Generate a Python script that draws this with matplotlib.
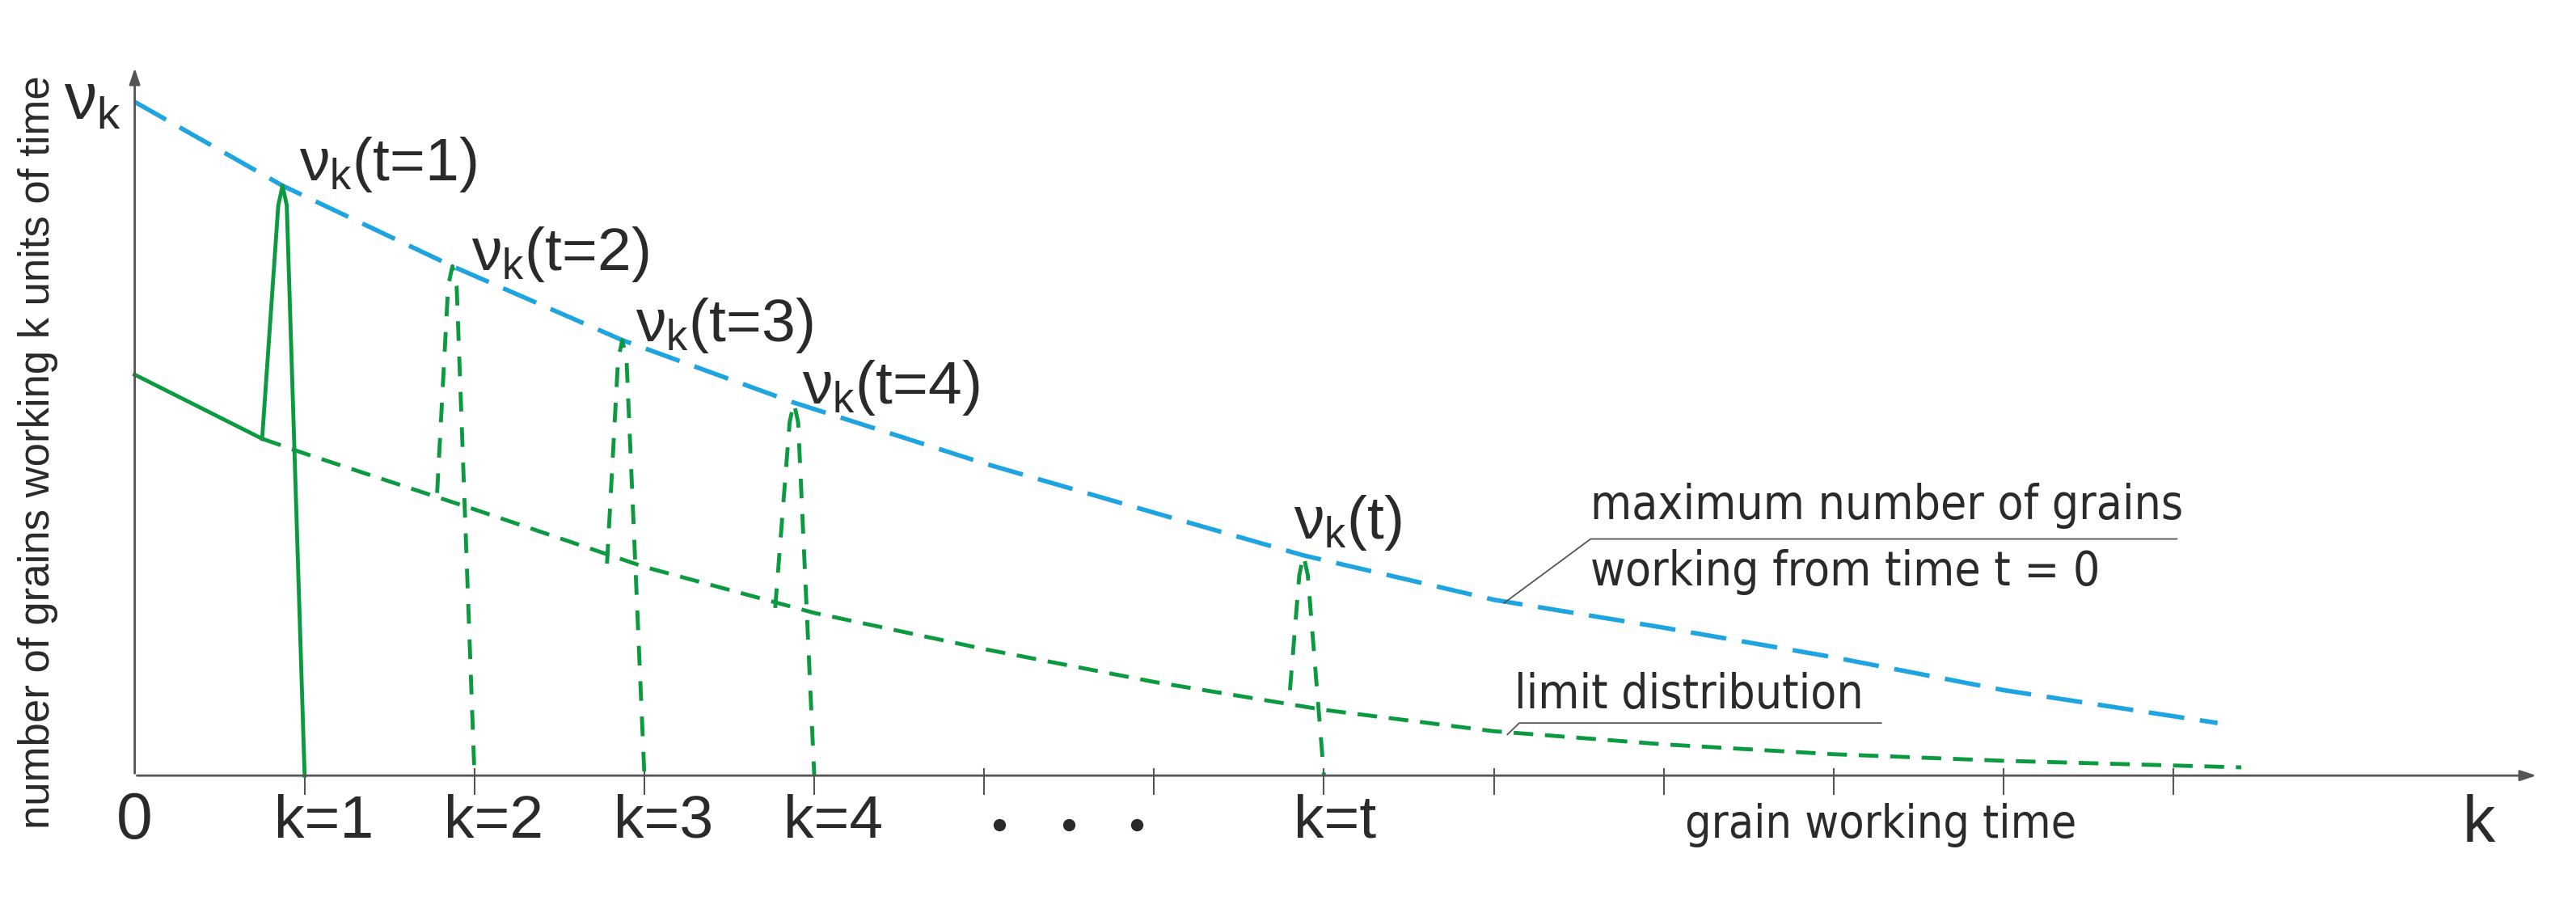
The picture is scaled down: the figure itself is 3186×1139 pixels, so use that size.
import matplotlib
matplotlib.use("Agg")
import matplotlib.pyplot as plt

plt.rcParams['font.family'] = ['Liberation Sans', 'DejaVu Sans']
plt.rcParams['mathtext.fontset'] = 'custom'
plt.rcParams['mathtext.rm'] = 'Liberation Sans'
plt.rcParams['mathtext.it'] = 'Liberation Sans'

BLUE = '#1ea4e0'
GREEN = '#0c9a40'
AX = '#555555'
TXT = '#2a2a2a'

# maximum number of grains working from time t=0
max_k = [0.0, 0.87, 1.87, 2.87, 3.88, 5.0, 6.0, 6.88, 8.0, 9.0, 10.0, 11.0, 12.26]
max_v = [410, 359, 310, 265, 227, 190, 160, 134, 107, 90, 72, 52, 32]
# limit distribution
lim_k = [0.0, 0.75, 1.0, 2.0, 3.0, 4.0, 5.0, 6.0, 7.0, 8.0, 9.0, 10.0, 11.0, 12.4]
lim_v = [244, 205, 196, 162, 127, 99, 77, 57, 40, 27, 19, 13, 9, 5]
# transient distributions nu_k(t)
t_labels = ['t=1', 't=2', 't=3', 't=4', 't']
rise_k = [0.75, 1.78, 2.78, 3.77, 6.80]
rise_v = [205, 172, 129, 102, 52]
peak_k = [0.87, 1.87, 2.87, 3.88, 6.88]
peak_v = [359, 310, 265, 227, 134]
zero_k = [1.0, 2.0, 3.0, 4.0, 7.0]
label_k = [0.97, 1.98, 2.95, 3.93, 6.82]
label_v = [372, 317, 274, 236, 154]
tick_k = list(range(1, 13))
tick_labels = ['k=1', 'k=2', 'k=3', 'k=4', 'k=t']
tick_label_k = [1, 2, 3, 4, 7]

fig = plt.figure(figsize=(31.86, 11.39), dpi=100)
ax = fig.add_axes([0, 0, 1, 1])
ax.set_xlim(-0.793, 14.37)
ax.set_ylim(-88.5, 472)
ax.axis('off')

# axes
ax.annotate('', xy=(14.15, 0), xytext=(0, 0),
            arrowprops=dict(arrowstyle='-|>,head_length=1.2,head_width=0.4', color=AX, lw=2))
ax.annotate('', xy=(0, 432), xytext=(0, 0),
            arrowprops=dict(arrowstyle='-|>,head_length=1.2,head_width=0.4', color=AX, lw=2))
for k in tick_k:
    ax.plot([k, k], [4, -11], color=AX, lw=1.5)

# curves
ax.plot(max_k, max_v, color=BLUE, lw=4, dashes=(8, 3.5))
ax.plot(lim_k[:2], lim_v[:2], color=GREEN, lw=3.5)
ax.plot(lim_k[1:], lim_v[1:], color=GREEN, lw=3.5, dashes=(5, 3))

for i in range(len(peak_k)):
    ks = [rise_k[i], peak_k[i] - 0.025, peak_k[i], peak_k[i] + 0.025, zero_k[i]]
    vs = [rise_v[i], peak_v[i] - 12, peak_v[i], peak_v[i] - 12, 0]
    if i == 0:
        ax.plot(ks, vs, color=GREEN, lw=3.5)
    else:
        ax.plot(ks, vs, color=GREEN, lw=3.5, dashes=(5, 4))
    ax.text(label_k[i], label_v[i], r'$\nu_{\mathrm{k}}$(' + t_labels[i] + ')',
            fontsize=54, color=TXT, ha='left', va='center')

# tick labels
ax.text(0, -28, '0', fontsize=58, color=TXT, ha='center', va='center')
for k, lab in zip(tick_label_k, tick_labels):
    ax.text(k - 0.18, -28, lab, fontsize=54, color=TXT, ha='left', va='center')
for k in [5.09, 5.5, 5.9]:
    ax.plot(k, -30, 'o', color=TXT, ms=10)
ax.text(10.28, -30, 'grain working time', fontsize=41, color=TXT, ha='center', va='center',
        fontstretch='condensed', family='DejaVu Sans')
ax.text(13.8, -30, 'k', fontsize=58, color=TXT, ha='center', va='center')
ax.text(-0.25, 410, r'$\nu_{\mathrm{k}}$', fontsize=58, color=TXT, ha='center', va='center')
ax.text(-0.57, 197, 'number of grains working k units of time', fontsize=38, color=TXT,
        rotation=90, ha='center', va='center')

# annotations
ax.plot([8.06, 8.57, 12.02], [105, 144, 144], color=AX, lw=1.3)
ax.text(8.57, 150, 'maximum number of grains', fontsize=42, color=TXT, ha='left', va='bottom',
        fontstretch='condensed', family='DejaVu Sans')
ax.text(8.57, 138, 'working from time t = 0', fontsize=42, color=TXT, ha='left', va='top',
        fontstretch='condensed', family='DejaVu Sans')
ax.plot([8.08, 8.15, 10.28], [25, 32, 32], color=AX, lw=1.3)
ax.text(8.12, 49, 'limit distribution', fontsize=42, color=TXT, ha='left', va='center',
        fontstretch='condensed', family='DejaVu Sans')

fig.savefig('out.png', dpi=100, facecolor='white')
